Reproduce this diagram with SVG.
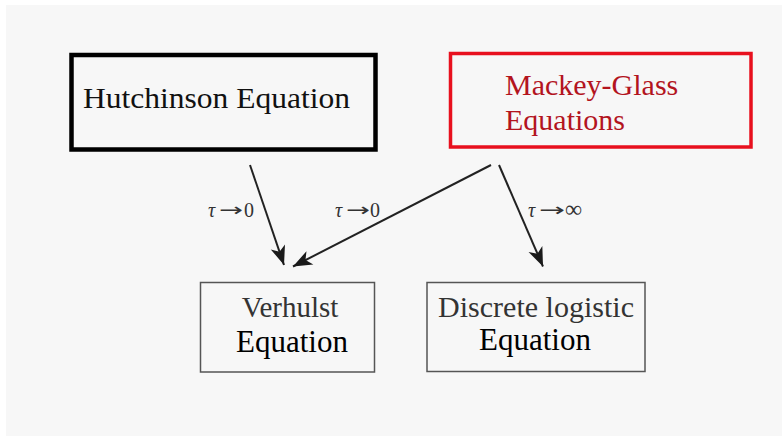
<svg xmlns="http://www.w3.org/2000/svg" width="782" height="436" viewBox="0 0 782 436">
<defs>
<marker id="ah" markerUnits="userSpaceOnUse" markerWidth="24" markerHeight="20" viewBox="-20 -10 24 20" refX="0" refY="0" orient="auto">
<path d="M0,0 L-19,-7.5 L-14,0 L-19,7.5 Z" fill="#1a1a1a"/>
</marker>
<style>
.serif{font-family:"Liberation Serif","Times New Roman",serif;}
.big{font-size:30px;}
.lbl{font-size:20px;fill:#333;}
.arr{font-family:"DejaVu Sans",sans-serif;font-size:18px;fill:#333;}
.edge{stroke:#222;stroke-width:2;fill:none;marker-end:url(#ah);}
</style>
</defs>
<rect x="0" y="0" width="782" height="436" fill="#ffffff"/>
<rect x="6" y="5" width="776" height="431" fill="#f7f7f7"/>
<g id="hutchinson">
<rect x="71.5" y="55" width="304" height="94.5" fill="none" stroke="#000" stroke-width="4.5"/>
<text class="serif big" x="83" y="108" fill="#111" textLength="267" lengthAdjust="spacingAndGlyphs">Hutchinson Equation</text>
</g>
<g id="mackey-glass">
<rect x="450.5" y="53.5" width="300.5" height="93.5" fill="none" stroke="#e8101e" stroke-width="3.5"/>
<text class="serif big" x="505" y="95" fill="#b3141e">Mackey-Glass</text>
<text class="serif big" x="505" y="130" fill="#b3141e">Equations</text>
</g>
<g id="verhulst">
<rect x="200.5" y="282.5" width="174" height="89.5" fill="none" stroke="#555" stroke-width="1.5"/>
<text class="serif" x="290" y="317" font-size="29" fill="#333" text-anchor="middle">Verhulst</text>
<text class="serif" x="292" y="352" font-size="31" fill="#000" text-anchor="middle">Equation</text>
</g>
<g id="discrete-logistic">
<rect x="427" y="282.5" width="218" height="89" fill="none" stroke="#555" stroke-width="1.5"/>
<text class="serif" x="536" y="317" font-size="29" fill="#333" text-anchor="middle" textLength="196" lengthAdjust="spacingAndGlyphs">Discrete logistic</text>
<text class="serif" x="535" y="349.5" font-size="31" fill="#000" text-anchor="middle">Equation</text>
</g>
<g id="connectors">
<line class="edge" x1="250" y1="165" x2="284" y2="265"/>
<line class="edge" x1="491" y1="165" x2="293" y2="266.5"/>
<line class="edge" x1="499" y1="165" x2="543" y2="266.5"/>
<text class="serif lbl" x="208" y="217" font-style="italic">τ</text>
<text class="arr" x="219" y="216" textLength="24" lengthAdjust="spacingAndGlyphs">→</text>
<text class="serif lbl" x="244" y="217">0</text>
<text class="serif lbl" x="335" y="217" font-style="italic">τ</text>
<text class="arr" x="346" y="216" textLength="24" lengthAdjust="spacingAndGlyphs">→</text>
<text class="serif lbl" x="370" y="217">0</text>
<text class="serif lbl" x="528" y="217" font-style="italic">τ</text>
<text class="arr" x="539" y="216" textLength="26" lengthAdjust="spacingAndGlyphs">→</text>
<text class="serif" x="565" y="217" font-size="24" fill="#333">∞</text>
</g>
</svg>
